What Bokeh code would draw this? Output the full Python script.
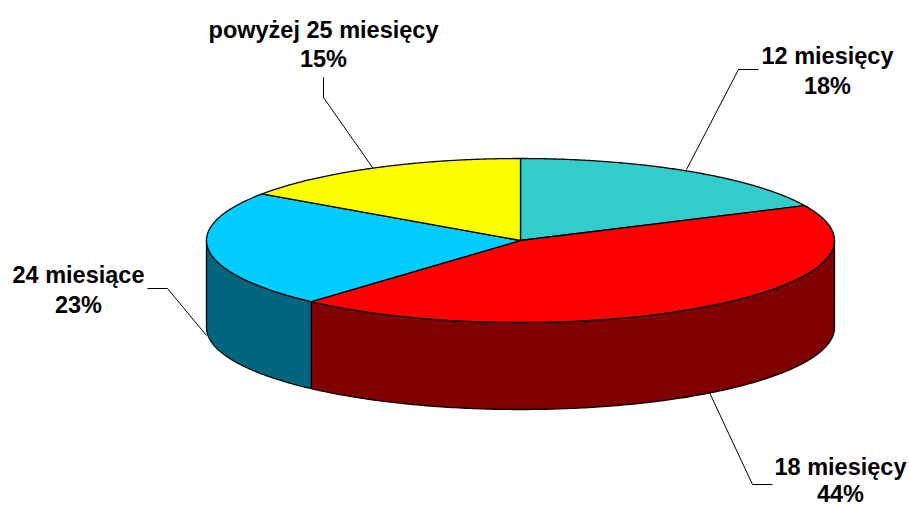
import numpy as np
from bokeh.plotting import figure
from bokeh.models import Range1d
from bokeh.core.properties import value
from bokeh.embed import file_html
from bokeh.resources import INLINE

# Data
categories = ["12 miesięcy", "18 miesięcy", "24 miesiące", "powyżej 25 miesięcy"]
shares = [18.0, 43.6, 23.0, 15.4]
share_labels = ["18%", "44%", "23%", "15%"]
top_colors = ["#33CCCC", "#FF0000", "#00CCFF", "#FFFF00"]
side_colors = ["#1A6666", "#800000", "#006680", "#808000"]

# Layout (reference pixels)
W, H = 909, 506
CX, CY, RX, RY, DEPTH = 520, 240, 314, 82, 87
label_anchor = [(827, 55), (840, 466), (78, 274), (323, 29)]
line_gap = [30, 27, 30, 29]
leaders = [
    ([686, 738, 758], [169, 69, 69]),
    ([709, 752, 772], [392, 484, 484]),
    ([147, 167, 206], [288, 288, 335]),
    ([323, 323, 372], [77, 97, 167]),
]
FONT = value("Liberation Sans")

p = figure(width=W, height=H, output_backend="svg", toolbar_location=None,
           x_range=Range1d(0, W), y_range=Range1d(H, 0),
           min_border=0, outline_line_color=None)
p.axis.visible = False
p.grid.visible = False


def rim(t):
    return CX + RX * np.sin(t), CY - RY * np.cos(t)


edges = np.radians(np.cumsum([0] + shares) * 3.6)

# Side walls (visible front half only, t between 90 and 270 degrees)
for i in range(len(shares)):
    a, b = max(edges[i], np.pi / 2), min(edges[i + 1], 3 * np.pi / 2)
    if a >= b:
        continue
    t = np.linspace(a, b, 200)
    x, y = rim(t)
    px = np.concatenate([x, x[::-1]])
    py = np.concatenate([y, (y + DEPTH)[::-1]])
    p.patch(px, py, fill_color=side_colors[i], line_color="black", line_width=1.3)

# Top slices
for i in range(len(shares)):
    t = np.linspace(edges[i], edges[i + 1], 200)
    x, y = rim(t)
    px = np.concatenate([[CX], x])
    py = np.concatenate([[CY], y])
    p.patch(px, py, fill_color=top_colors[i], line_color="black", line_width=1.3)

# Leader lines
for lx, ly in leaders:
    p.line(lx, ly, line_color="black", line_width=1)

# Labels
for name, lab, (lx, ly), gap in zip(categories, share_labels, label_anchor, line_gap):
    for text, yy in ((name, ly), (lab, ly + gap)):
        p.text([lx], [yy], text=[text], text_font=FONT, text_font_style="bold",
               text_font_size="23.5px", text_color="black", text_align="center",
               text_baseline="alphabetic")

open("out.html", "w").write(file_html(p, INLINE))
